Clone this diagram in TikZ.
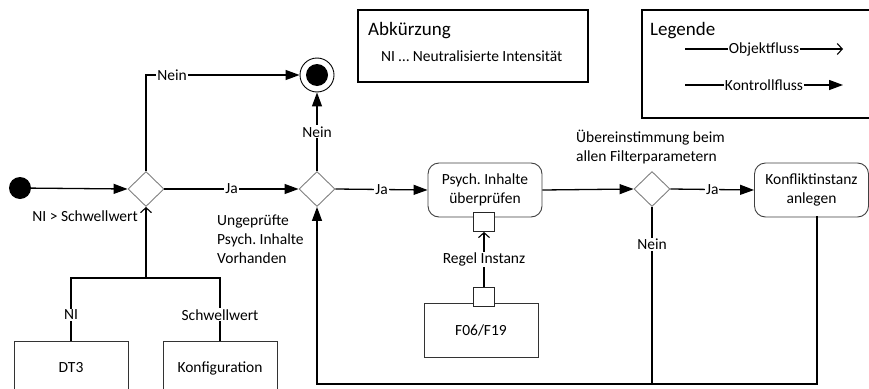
\documentclass[tikz,border=0pt]{standalone}
\usepackage{fontspec}
\setmainfont{Carlito}
\usetikzlibrary{arrows.meta,shapes.geometric,positioning}
\frenchspacing
\newcommand{\flowfont}{\fontsize{15.5}{19}\selectfont}
\tikzset{
  flow/.style={line width=1.3pt, draw=black},
  ctrl/.style={flow, -{Triangle[length=14pt,width=10pt]}},
  obj/.style={flow, -{Straight Barb[length=5pt,width=11pt,line width=1.1pt]}},
  lbl/.style={fill=white, inner sep=1pt, font=\flowfont},
  txt/.style={inner sep=0pt, font=\flowfont},
  decision/.style={diamond, draw=gray, line width=0.9pt, fill=white,
    minimum width=36pt, minimum height=35pt, inner sep=0pt},
  action/.style={rectangle, rounded corners=11pt, draw=black!75, line width=0.9pt,
    minimum width=114pt, minimum height=54pt, align=center, fill=white,
    font=\flowfont},
  objbox/.style={rectangle, draw=black!80, line width=0.9pt,
    minimum width=114pt, minimum height=54pt, align=center, fill=white,
    font=\flowfont},
  pin/.style={rectangle, draw=black!85, line width=0.8pt, fill=white,
    minimum width=21pt, minimum height=19pt, inner sep=0pt},
  infobox/.style={draw=black, line width=1.6pt}
}
\begin{document}
\begin{tikzpicture}[x=1pt,y=-1pt]
\useasboundingbox (0,0) rectangle (869,388);

% abbreviation and legend boxes
\draw[infobox] (358,10) rectangle (588,82);
\node[anchor=west, inner sep=0pt, font=\fontsize{19}{22}\selectfont] (abkt) at (368,31) {Abkürzung};
\node[anchor=west, txt] (abkni) at (381,56) {NI … Neutralisierte Intensität};

\draw[infobox] (642,10) rectangle (880,118);
\node[anchor=west, inner sep=0pt, font=\fontsize{19}{22}\selectfont] (legt) at (650,31) {Legende};
\coordinate (oa) at (685,49);
\coordinate (ob) at (843,49);
\coordinate (ka) at (685,85);
\coordinate (kb) at (843,85);
\draw[obj] (oa) -- node[lbl] {Objektfluss} (ob);
\draw[ctrl] (ka) -- node[lbl] {Kontrollfluss} (kb);

% activity nodes
\node[circle, fill=black, minimum size=22pt, inner sep=0pt] (start) at (20,188) {};
\node[decision] (d1) at (146,189) {};
\node[decision] (d2) at (317,189) {};
\node[decision] (d3) at (652,189) {};
\node[circle, draw=black, line width=0.9pt, minimum size=34pt, inner sep=0pt] (final) at (317,75) {};
\node[circle, fill=black, minimum size=22pt, inner sep=0pt] (finaldot) at (final) {};

\node[action] (psych) at (485,190) {Psych. Inhalte\\überprüfen};
\node[action] (konf) at (811.5,190) {Konfliktinstanz\\anlegen};

\node[objbox] (f06) at (481,330) {F06/F19};
\node[objbox] (dt3) at (71,368) {DT3};
\node[objbox] (cfg) at (220,368) {Konfiguration};

\node[pin] (pin1) at (484,222) {};
\node[pin] (pin2) at (484,297) {};

% free texts
\node[txt, anchor=east] (cond1) at (138,216) {NI > Schwellwert};
\node[txt, anchor=north west, align=left] (cond2) at (217,215) {Ungeprüfte\\Psych. Inhalte\\Vorhanden};
\node[txt, anchor=south west, align=left] (cond3) at (576,164) {Übereinstimmung beim\\allen Filterparametern};

% control flow
\draw[ctrl] (start) -- (d1.west);
\draw[ctrl] (d1.east) -- node[lbl] {Ja} (d2.west);
\draw[ctrl] (d1.north) |- node[lbl, pos=0.585] {Nein} (final.west);
\draw[ctrl] (d2.north) -- node[lbl] {Nein} (final.south);
\draw[ctrl] (d2.east) -- node[lbl] {Ja} (psych.west);
\draw[ctrl] (psych.east) -- (d3.west);
\draw[ctrl] (d3.east) -- node[lbl] {Ja} (konf.west);

\coordinate (kb0) at (817,216);
\coordinate (loopR) at (817,384);
\coordinate (loopL) at (317,384);
\draw[ctrl] (kb0) -- (loopR) -- (loopL) -- (d2.south);
\draw[flow] (d3.south) -- node[lbl, pos=0.21] {Nein} (d3.south |- loopL);

% object flow
\coordinate (j) at (146,278);
\draw[flow] (dt3.north) -- node[lbl, pos=0.41] {NI} (dt3.north |- j) -- (cfg.north |- j)
  -- node[lbl, pos=0.59] {Schwellwert} (cfg.north);
\draw[obj] (j) -- (d1.south);
\draw[obj] (pin2.north) -- node[lbl] {Regel Instanz} (pin1.south);
\end{tikzpicture}
\end{document}
